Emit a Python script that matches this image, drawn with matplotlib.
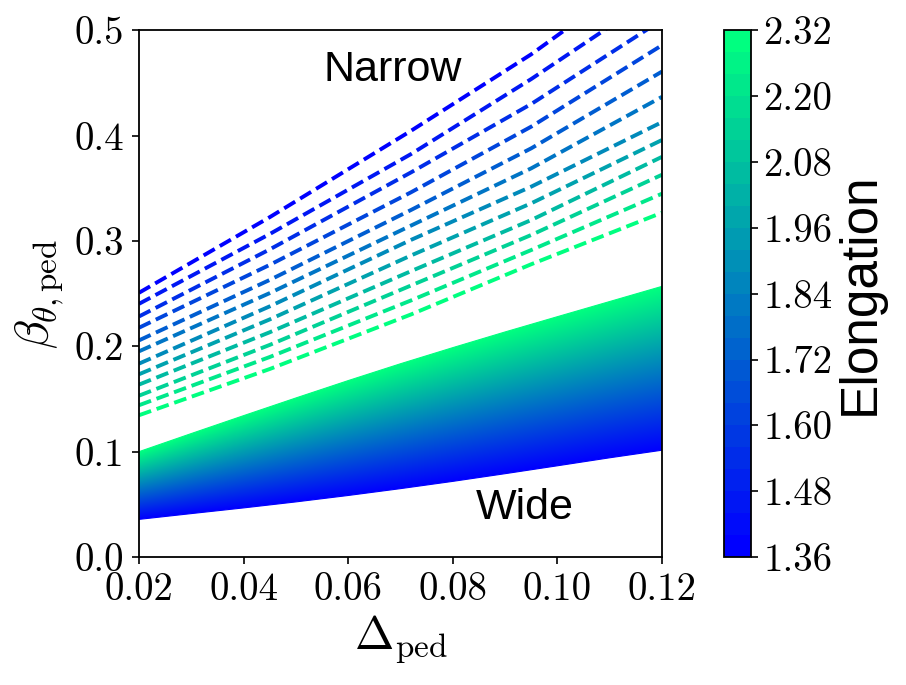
import numpy as np
import matplotlib
matplotlib.use('Agg')
import matplotlib.pyplot as plt
from matplotlib import colors as mcolors
from matplotlib import cm

plt.rcParams['mathtext.fontset'] = 'cm'
plt.rcParams['font.family'] = 'serif'
plt.rcParams['font.serif'] = ['cmr10']
plt.rcParams['axes.formatter.use_mathtext'] = True

# ---------------- data ----------------
# Narrow branch (dashed lines), one line per elongation value
delta_narrow = [0.02, 0.045, 0.072, 0.095, 0.12]
kappa_narrow = [1.36, 1.45, 1.53, 1.62, 1.71, 1.80, 1.88, 1.97, 2.06, 2.15, 2.23, 2.32]
beta_narrow = [
    [0.2509, 0.3227, 0.4047, 0.4774, 0.567],
    [0.2404, 0.3067, 0.3826, 0.4539, 0.537],
    [0.2284, 0.2921, 0.3652, 0.4302, 0.510],
    [0.2177, 0.2774, 0.3463, 0.4087, 0.486],
    [0.2057, 0.2631, 0.3295, 0.3881, 0.461],
    [0.1953, 0.2506, 0.3147, 0.3691, 0.437],
    [0.1836, 0.2380, 0.3011, 0.3517, 0.413],
    [0.1735, 0.2256, 0.2863, 0.3359, 0.396],
    [0.1637, 0.2134, 0.2714, 0.3200, 0.380],
    [0.1532, 0.2014, 0.2578, 0.3058, 0.363],
    [0.1441, 0.1899, 0.2436, 0.2915, 0.345],
    [0.1346, 0.1785, 0.2303, 0.2780, 0.327],
]

# Wide branch (filled band): lowest and highest elongation curves
delta_wide = [0.02, 0.03, 0.04, 0.05, 0.06, 0.07, 0.08, 0.09, 0.10, 0.11, 0.12]
beta_wide_low = [0.0357, 0.0412, 0.0466, 0.0523, 0.0584, 0.0649,
                 0.0718, 0.0791, 0.0866, 0.0942, 0.1014]   # kappa = 1.36
beta_wide_high = [0.1000, 0.1172, 0.1342, 0.1510, 0.1675, 0.1835,
                  0.1988, 0.2137, 0.2282, 0.2426, 0.2570]  # kappa = 2.32
kappa_min, kappa_max = 1.36, 2.32

cbar_ticks = [1.36, 1.48, 1.60, 1.72, 1.84, 1.96, 2.08, 2.20, 2.32]
xticks = [0.02, 0.04, 0.06, 0.08, 0.10, 0.12]
yticks = [0.0, 0.1, 0.2, 0.3, 0.4, 0.5]

# ---------------- figure ----------------
fig = plt.figure(figsize=(9.06, 6.85), dpi=100)
ax = fig.add_axes([0.1534, 0.1869, 0.5773, 0.7686])
cax = fig.add_axes([0.7991, 0.1869, 0.0298, 0.7686])

cmap = plt.get_cmap('winter')
norm = mcolors.Normalize(vmin=kappa_min, vmax=kappa_max)

# dashed narrow-branch lines
for k, b in zip(kappa_narrow, beta_narrow):
    ax.plot(delta_narrow, b, ls=(0, (3.3, 1.5)), lw=2.8, color=cmap(norm(k)))

# wide-branch band as a gradient clipped to the band polygon
poly = ax.fill_between(delta_wide, beta_wide_low, beta_wide_high,
                       facecolor='none', edgecolor='none')
xs = np.linspace(0.02, 0.12, 500)
ys = np.linspace(0.0, 0.3, 900)
X, Y = np.meshgrid(xs, ys)
lo = np.interp(X, delta_wide, beta_wide_low)
hi = np.interp(X, delta_wide, beta_wide_high)
frac = np.clip((Y - lo) / (hi - lo), 0, 1)
K = kappa_min + frac * (kappa_max - kappa_min)
im = ax.imshow(K, origin='lower', extent=[0.02, 0.12, 0.0, 0.3],
               aspect='auto', cmap=cmap, norm=norm, interpolation='bilinear')
im.set_clip_path(poly.get_paths()[0], transform=ax.transData)
ax.plot(delta_wide, beta_wide_low, color=cmap(0.0), lw=0.8)
ax.plot(delta_wide, beta_wide_high, color=cmap(1.0), lw=0.8)

ax.set_xlim(0.02, 0.12)
ax.set_ylim(0.0, 0.5)
ax.set_xticks(xticks)
ax.set_yticks(yticks)
ax.set_xticklabels(['%.2f' % v for v in xticks])
ax.set_yticklabels(['%.1f' % v for v in yticks])
ax.tick_params(labelsize=28, length=5, width=1.2, pad=6)
for s in ax.spines.values():
    s.set_linewidth(1.3)

ax.set_xlabel(r'$\Delta_{\rm ped}$', fontsize=34, labelpad=4)
ax.set_ylabel(r'$\beta_{\theta,{\rm ped}}$', fontsize=34, labelpad=6)

ax.text(0.0685, 0.4625, 'Narrow', fontsize=31, family='Liberation Sans',
        ha='center', va='center')
ax.text(0.0937, 0.0465, 'Wide', fontsize=31, family='Liberation Sans',
        ha='center', va='center')

# colorbar with discrete levels
levels = np.linspace(kappa_min, kappa_max, 25)
bnorm = mcolors.BoundaryNorm(levels, cmap.N)
sm = cm.ScalarMappable(norm=bnorm, cmap=cmap)
cb = fig.colorbar(sm, cax=cax, ticks=cbar_ticks)
cb.ax.minorticks_off()
cb.ax.set_yticklabels(['%.2f' % v for v in cbar_ticks])
cb.ax.tick_params(labelsize=28, length=5, width=1.2, pad=4)
cb.outline.set_linewidth(1.3)
cb.set_label('Elongation', fontsize=37, family='Liberation Sans', labelpad=2)

fig.savefig('out.png', dpi=100)
